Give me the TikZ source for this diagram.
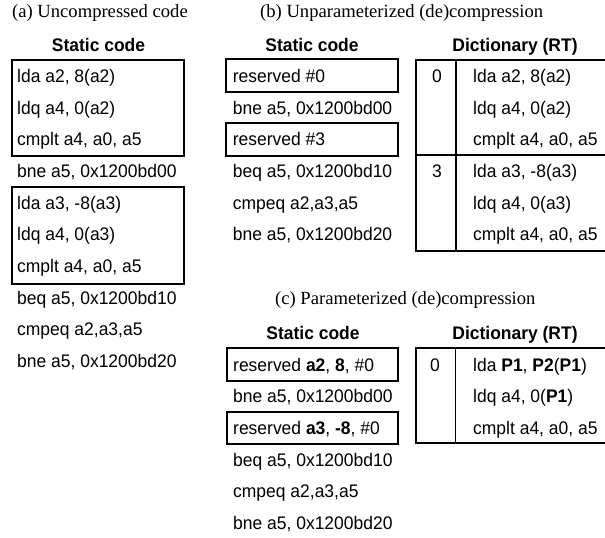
\documentclass[tikz,border=0pt]{standalone}
\usepackage{fontspec}
\newfontfamily\sansf[FakeStretch=0.96]{Liberation Sans}
\newfontfamily\seriff{Liberation Serif}
\newcommand{\codefont}{\sansf\fontsize{18.2}{21}\selectfont}
\newcommand{\headfont}{\sansf\bfseries\fontsize{18.2}{21}\selectfont}
\newcommand{\capfont}{\seriff\fontsize{18.6}{21}\selectfont}
\tikzset{
  code/.style={font=\codefont, anchor=base west, inner sep=0pt},
  num/.style={font=\codefont, anchor=base, inner sep=0pt},
  head/.style={font=\headfont, anchor=base, inner sep=0pt},
  captext/.style={font=\capfont, anchor=base west, inner sep=0pt},
  frame/.style={draw=black, line width=1.6pt},
  rule/.style={draw=black, line width=1.6pt}
}
\begin{document}
\begin{tikzpicture}[x=1pt, y=-1pt]
\useasboundingbox (0,0) rectangle (605,538);
\fill[white] (0,0) rectangle (605,538);

% ---------- (a) uncompressed code ----------
\node[captext] (capA) at (12,17.5) {(a) Uncompressed code};
\node[head] (headA) at (98.5,51) {Static code};
\draw[frame] (12,60) rectangle (184,156);
\draw[frame] (12,187) rectangle (184,284);
\node[code] (a1) at (17,82.5)  {lda a2, 8(a2)};
\node[code] (a2) at (17,114.2) {ldq a4, 0(a2)};
\node[code] (a3) at (17,145.8) {cmplt a4, a0, a5};
\node[code] (a4) at (17,177.5) {bne a5, 0x1200bd00};
\node[code] (a5) at (17,209.2) {lda a3, -8(a3)};
\node[code] (a6) at (17,240.8) {ldq a4, 0(a3)};
\node[code] (a7) at (17,272.5) {cmplt a4, a0, a5};
\node[code] (a8) at (17,304.2) {beq a5, 0x1200bd10};
\node[code] (a9) at (17,335.8) {cmpeq a2,a3,a5};
\node[code] (a10) at (17,367.5) {bne a5, 0x1200bd20};

% ---------- (b) unparameterized (de)compression ----------
\node[captext] (capB) at (260,17.5) {(b) Unparameterized (de)compression};
\node[head] (headB) at (312,51) {Static code};
\draw[frame] (226,59) rectangle (398,92);
\draw[frame] (226,123) rectangle (398,156);
\node[code] (b1) at (232.7,82.5)  {reserved \#0};
\node[code] (b2) at (232.7,114.2) {bne a5, 0x1200bd00};
\node[code] (b3) at (232.7,145.8) {reserved \#3};
\node[code] (b4) at (232.7,177.5) {beq a5, 0x1200bd10};
\node[code] (b5) at (232.7,209.2) {cmpeq a2,a3,a5};
\node[code] (b6) at (232.7,240.8) {bne a5, 0x1200bd20};

\node[head] (dictB) at (515,51) {Dictionary (RT)};
\draw[rule] (605,60) -- (416,60) -- (416,251) -- (605,251);
\draw[rule] (416,155) -- (605,155);
\draw[rule] (456,60) -- (456,251);
\node[num] (kB0) at (437,82.5) {0};
\node[num] (kB3) at (437,177.5) {3};
\node[code] (d1) at (473,82.5)  {lda a2, 8(a2)};
\node[code] (d2) at (473,114.2) {ldq a4, 0(a2)};
\node[code] (d3) at (473,145.8) {cmplt a4, a0, a5};
\node[code] (d4) at (473,177.5) {lda a3, -8(a3)};
\node[code] (d5) at (473,209.2) {ldq a4, 0(a3)};
\node[code] (d6) at (473,240.8) {cmplt a4, a0, a5};

% ---------- (c) parameterized (de)compression ----------
\node[captext] (capC) at (275,304) {(c) Parameterized (de)compression};
\node[head] (headC) at (313,339) {Static code};
\draw[frame] (227,348) rectangle (398,381);
\draw[frame] (227,412) rectangle (398,444);
\node[code] (c1) at (233,371) {reserved \textbf{a2}, \textbf{8}, \#0};
\node[code] (c2) at (233,402.7) {bne a5, 0x1200bd00};
\node[code] (c3) at (233,434.3) {reserved \textbf{a3}, \textbf{-8}, \#0};
\node[code] (c4) at (233,466) {beq a5, 0x1200bd10};
\node[code] (c5) at (233,497.7) {cmpeq a2,a3,a5};
\node[code] (c6) at (233,529.3) {bne a5, 0x1200bd20};

\node[head] (dictC) at (515,339) {Dictionary (RT)};
\draw[rule] (605,348) -- (416,348) -- (416,443) -- (605,443);
\draw[rule] (455.5,348) -- (455.5,443);
\node[num] (kC0) at (435,371) {0};
\node[code] (e1) at (473,371) {lda \textbf{P1}, \textbf{P2}(\textbf{P1})};
\node[code] (e2) at (473,402.7) {ldq a4, 0(\textbf{P1})};
\node[code] (e3) at (473,434.3) {cmplt a4, a0, a5};
\end{tikzpicture}
\end{document}
